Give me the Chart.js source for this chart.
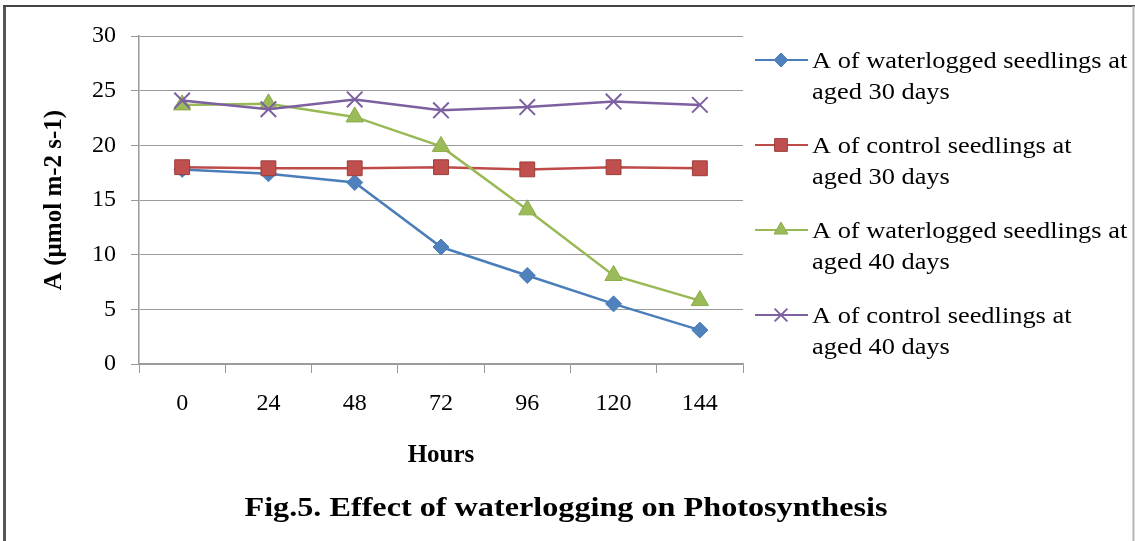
<!DOCTYPE html>
<html>
<head>
<meta charset="utf-8">
<script src="https://cdn.jsdelivr.net/npm/chart.js@4.4.1/dist/chart.umd.min.js"></script>
<style>
  html, body { margin: 0; padding: 0; background: #fff; }
  #wrap { width: 1135px; height: 541px; }
</style>
</head>
<body>
<div id="wrap"><canvas id="chart" width="1135" height="541"></canvas></div>
<script>
// values
const hours = ['0', '24', '48', '72', '96', '120', '144'];
const waterlogged30 = [17.8, 17.4, 16.6, 10.7, 8.1, 5.5, 3.1];
const control30 = [18.0, 17.9, 17.9, 18.0, 17.8, 18.0, 17.9];
const waterlogged40 = [23.7, 23.8, 22.6, 19.9, 14.1, 8.1, 5.8];
const control40 = [24.1, 23.3, 24.2, 23.2, 23.5, 24.0, 23.7];

const seriesLabels = [
  ['A of waterlogged seedlings at', 'aged 30 days'],
  ['A of control seedlings at', 'aged 30 days'],
  ['A of waterlogged seedlings at', 'aged 40 days'],
  ['A of control seedlings at', 'aged 40 days']
];
const figTitle = 'Fig.5. Effect of waterlogging on Photosynthesis';

const serif = "'Liberation Serif', 'Times New Roman', serif";
const gridGray = '#9a9a9a';

// legend on the right, two lines per entry
const sideLegend = {
  id: 'sideLegend',
  afterDraw(chart) {
    const ctx = chart.ctx;
    ctx.save();
    ctx.font = `24px ${serif}`;
    ctx.textBaseline = 'alphabetic';
    chart.data.datasets.forEach((ds, i) => {
      const y = 60 + i * 85;
      ctx.strokeStyle = ds.borderColor;
      ctx.lineWidth = 2;
      ctx.beginPath();
      ctx.moveTo(755, y);
      ctx.lineTo(808, y);
      ctx.stroke();
      ctx.fillStyle = ds.pointBackgroundColor;
      ctx.strokeStyle = ds.pointBorderColor;
      ctx.lineWidth = ds.pointStyle === 'crossRot' ? 2 : 1;
      Chart.helpers.drawPoint(ctx, {
        pointStyle: ds.pointStyle,
        radius: ds.legendRadius,
        borderWidth: ctx.lineWidth,
        rotation: 0
      }, 781, y);
      ctx.fillStyle = '#000';
      ds.label.forEach((line, j) => {
        ctx.save();
        ctx.translate(812, y + 8 + j * 31);
        ctx.scale(1.1, 1);
        ctx.fillText(line, 0, 0);
        ctx.restore();
      });
    });

    // figure caption
    ctx.font = `bold 28px ${serif}`;
    ctx.textAlign = 'center';
    ctx.save();
    ctx.translate(566, 516);
    ctx.scale(1.15, 1);
    ctx.fillText(figTitle, 0, 0);
    ctx.restore();

    // outer frame of the picture
    ctx.lineWidth = 3;
    ctx.strokeStyle = '#555';
    ctx.beginPath();
    ctx.moveTo(4.5, 541);
    ctx.lineTo(4.5, 6);
    ctx.stroke();
    ctx.lineWidth = 2;
    ctx.strokeStyle = '#444';
    ctx.beginPath();
    ctx.moveTo(3, 6);
    ctx.lineTo(1135, 6);
    ctx.stroke();
    ctx.strokeStyle = '#b5b5b5';
    ctx.beginPath();
    ctx.moveTo(1133.5, 6);
    ctx.lineTo(1133.5, 541);
    ctx.stroke();
    ctx.restore();
  }
};

const whiteBg = {
  id: 'whiteBg',
  beforeDraw(chart) {
    const ctx = chart.ctx;
    ctx.save();
    ctx.fillStyle = '#fff';
    ctx.fillRect(0, 0, chart.width, chart.height);
    ctx.restore();
  }
};

new Chart(document.getElementById('chart'), {
  type: 'line',
  data: {
    labels: hours,
    datasets: [
      {
        label: seriesLabels[0], data: waterlogged30, order: 4,
        borderColor: '#4a7ebb', pointBackgroundColor: '#4f81bd', pointBorderColor: '#4a7ebb',
        pointStyle: 'rectRot', pointRadius: 8, legendRadius: 7
      },
      {
        label: seriesLabels[1], data: control30, order: 3,
        borderColor: '#be4b48', pointBackgroundColor: '#c0504d', pointBorderColor: '#9c3c3a',
        pointStyle: 'rect', pointRadius: 10.5, legendRadius: 9
      },
      {
        label: seriesLabels[2], data: waterlogged40, order: 2,
        borderColor: '#98b954', pointBackgroundColor: '#9bbb59', pointBorderColor: '#8aab4a',
        pointStyle: 'triangle', pointRadius: 10, legendRadius: 8
      },
      {
        label: seriesLabels[3], data: control40, order: 1,
        borderColor: '#7d60a0', pointBackgroundColor: '#7d60a0', pointBorderColor: '#7d60a0',
        pointStyle: 'crossRot', pointRadius: 11, pointBorderWidth: 2, legendRadius: 9
      }
    ].map(ds => Object.assign({ borderWidth: 2.5, tension: 0, pointBorderWidth: 1 }, ds))
  },
  options: {
    responsive: false,
    animation: false,
    devicePixelRatio: 1,
    layout: { padding: { left: 0, top: 36, right: 392, bottom: 0 } },
    plugins: {
      legend: { display: false },
      tooltip: { enabled: false }
    },
    scales: {
      x: {
        offset: true,
        grid: { offset: true, drawOnChartArea: false, tickLength: 9, color: gridGray },
        border: { color: gridGray, width: 1.5 },
        ticks: { color: '#000', font: { family: serif, size: 24 }, padding: 16 },
        title: {
          display: true, text: 'Hours', color: '#000',
          font: { family: serif, size: 25, weight: 'bold' },
          padding: { top: 0, bottom: 70 }
        },
        afterFit: s => { s.height = 541 - 364; }
      },
      y: {
        min: 0, max: 30,
        ticks: { stepSize: 5, color: '#000', font: { family: serif, size: 24 }, padding: 15 },
        grid: { color: gridGray, tickLength: 8 },
        border: { color: gridGray, width: 1.5 },
        title: {
          display: true, text: 'A (µmol m-2 s-1)', color: '#000',
          font: { family: serif, size: 25, weight: 'bold' },
          padding: { top: 40, bottom: 0 }
        },
        afterFit: s => { s.width = 139; }
      }
    }
  },
  plugins: [whiteBg, sideLegend]
});
</script>
</body>
</html>
